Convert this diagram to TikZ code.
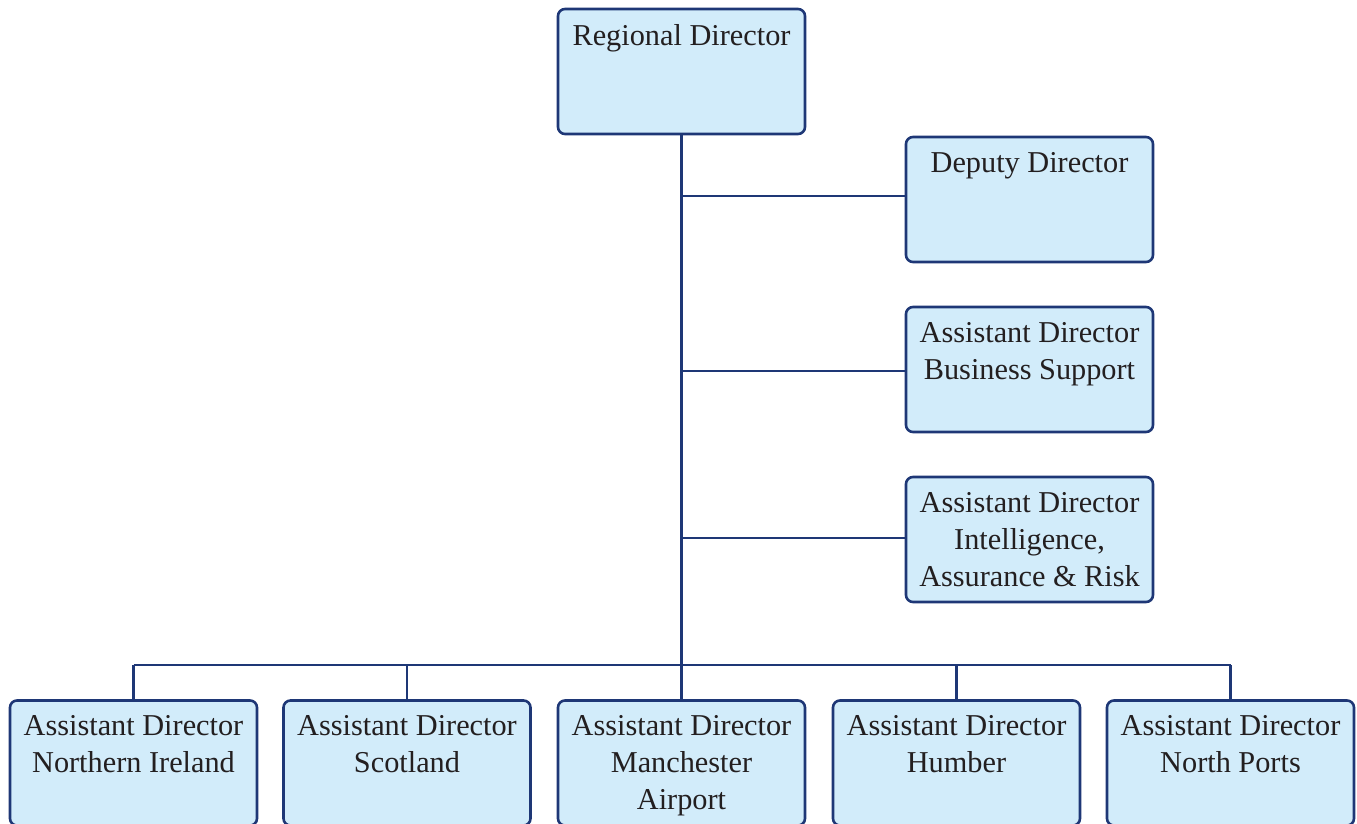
\documentclass[tikz,border=0pt]{standalone}
\usepackage{fontspec}
\setmainfont{Liberation Serif}
\definecolor{navy}{RGB}{30,55,118}
\definecolor{boxfill}{RGB}{210,236,250}
\definecolor{ink}{RGB}{35,31,32}
\begin{document}
\begin{tikzpicture}[x=1pt,y=-1pt,
  box/.style={draw=navy, fill=boxfill, line width=2.6pt, rounded corners=7pt,
    minimum width=247pt, minimum height=125pt, inner sep=0pt, outer sep=0pt},
  lbl/.style={anchor=north, align=center, inner sep=0pt, text=ink,
    font=\fontsize{30.3}{37}\selectfont},
  conn/.style={draw=navy, line width=2.6pt}]
\useasboundingbox (0,0) rectangle (1357,823);
\node[box] (rd) at (681.5,71.5) {};
\node[box] (dep) at (1029.5,199.5) {};
\node[box] (bs) at (1029.5,369.5) {};
\node[box] (iar) at (1029.5,539.5) {};
\node[box] (ni) at (133.5,763) {};
\node[box] (sc) at (407,763) {};
\node[box] (ma) at (681.5,763) {};
\node[box] (hu) at (956.5,763) {};
\node[box] (np) at (1230.5,763) {};
\coordinate (bus) at (0,665);
\coordinate (jdep) at ([yshift=3.5pt]dep.west);
\coordinate (jbs) at ([yshift=-1.5pt]bs.west);
\coordinate (jiar) at ([yshift=1.5pt]iar.west);
\draw[conn] (rd.south) -- (ma.north);
\draw[conn] (rd.south |- jdep) -- (jdep);
\draw[conn] (rd.south |- jbs) -- (jbs);
\draw[conn] (rd.south |- jiar) -- (jiar);
\draw[conn] (ni.north |- bus) -- (np.north |- bus);
\draw[conn] (ni.north |- bus) -- (ni.north);
\draw[conn] (sc.north |- bus) -- (sc.north);
\draw[conn] (hu.north |- bus) -- (hu.north);
\draw[conn] (np.north |- bus) -- (np.north);
\node[lbl] (trd) at ([yshift=-15pt]rd.north) {Regional Director};
\node[lbl] (tdep) at ([yshift=-15pt]dep.north) {Deputy Director};
\node[lbl] (tbs) at ([yshift=-15pt]bs.north) {Assistant Director\\Business Support};
\node[lbl] (tiar) at ([yshift=-15pt]iar.north) {Assistant Director\\Intelligence,\\Assurance \& Risk};
\node[lbl] (tni) at ([yshift=-15pt]ni.north) {Assistant Director\\Northern Ireland};
\node[lbl] (tsc) at ([yshift=-15pt]sc.north) {Assistant Director\\Scotland};
\node[lbl] (tma) at ([yshift=-15pt]ma.north) {Assistant Director\\Manchester\\Airport};
\node[lbl] (thu) at ([yshift=-15pt]hu.north) {Assistant Director\\Humber};
\node[lbl] (tnp) at ([yshift=-15pt]np.north) {Assistant Director\\North Ports};
\end{tikzpicture}
\end{document}
